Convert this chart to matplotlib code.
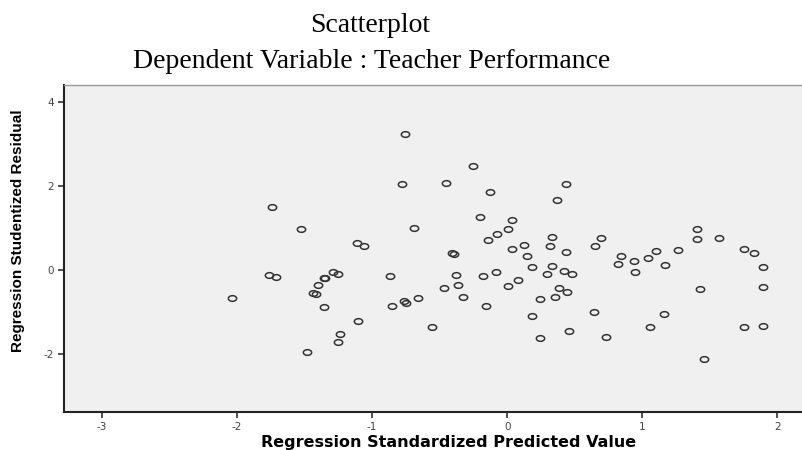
import numpy as np
import matplotlib
matplotlib.use("Agg")
import matplotlib.pyplot as plt
from matplotlib.path import Path
from matplotlib.transforms import Affine2D

# standardized predicted value / studentized residual
pred = [-0.756, -0.78, -1.743, -1.524, -0.69, -1.109, -1.057, -0.25, -0.454, -0.128,
        0.437, 0.370, -0.2, 0.035, 0.005, -0.072, -0.143, 0.331, 0.696, 0.126,
        0.037, 0.314, 0.654, 1.405, 1.405, 1.570, 0.844, 0.82, 0.936, 1.099,
        1.04, 1.262, 1.17, 0.95, 1.75, 1.825, 1.896, 1.896, 1.425, 1.163,
        1.057, 1.75, 1.896, 1.454, 0.73, -0.41, -0.39, 0.437, 0.15, -0.38,
        -0.178, -0.086, 0.183, 0.331, 0.296, 0.42, 0.477, -0.469, -0.365, -0.323,
        0.005, 0.077, 0.385, 0.444, 0.356, 0.24, -0.16, 0.183, 0.642, -0.553,
        0.24, 0.459, -0.66, -1.76, -1.709, -2.037, -1.287, -1.25, -1.358, -1.348,
        -1.398, -1.435, -1.417, -1.358, -0.869, -0.852, -0.763, -0.746, -1.106, -1.235,
        -1.254, -1.481]
resid = [3.23, 2.04, 1.50, 0.98, 1.00, 0.63, 0.58, 2.48, 2.06, 1.86,
         2.05, 1.66, 1.27, 1.18, 0.98, 0.85, 0.72, 0.79, 0.75, 0.60,
         0.50, 0.57, 0.58, 0.97, 0.74, 0.75, 0.33, 0.13, 0.21, 0.46,
         0.29, 0.47, 0.12, -0.05, 0.50, 0.40, 0.07, -0.40, -0.45, -1.05,
         -1.35, -1.36, -1.33, -2.13, -1.60, 0.40, 0.38, 0.42, 0.33, -0.11,
         -0.15, -0.04, 0.06, 0.10, -0.09, -0.02, -0.10, -0.44, -0.37, -0.64,
         -0.39, -0.25, -0.44, -0.52, -0.64, -0.70, -0.86, -1.09, -1.01, -1.35,
         -1.62, -1.46, -0.67, -0.11, -0.17, -0.67, -0.05, -0.10, -0.20, -0.20,
         -0.36, -0.56, -0.57, -0.88, -0.15, -0.86, -0.75, -0.79, -1.21, -1.52,
         -1.72, -1.95]

xticks = [-3, -2, -1, 0, 1, 2]
yticks = [-2, 0, 2, 4]

fig = plt.figure(figsize=(8.03, 4.5), dpi=100)
ax = fig.add_axes([64 / 803, 1 - 412 / 450, 1 - 64 / 803, (412 - 85) / 450])
ax.set_facecolor("#f0f0f0")

# squashed circle, the markers in the original are a bit wider than tall
ellipse = Path.unit_circle().transformed(Affine2D().scale(1, 0.68))
ax.plot(pred, resid, linestyle="none", marker=ellipse, markersize=6.0,
        markerfacecolor="none", markeredgecolor="#333333", markeredgewidth=1.1)

ax.set_xlim(-3.28, 2.19)
ax.set_ylim(-3.38, 4.40)
ax.set_xticks(xticks)
ax.set_yticks(yticks)
ax.set_xticklabels([str(t) for t in xticks])
ax.set_yticklabels([str(t) for t in yticks])
ax.tick_params(direction="out", length=4, width=1.2, color="#333333",
               labelsize=7.5, labelcolor="#444444", pad=3)

for s in ["left", "bottom"]:
    ax.spines[s].set_linewidth(1.5)
    ax.spines[s].set_color("#222222")
ax.spines["top"].set_color("#999999")
ax.spines["top"].set_linewidth(1.0)
ax.spines["right"].set_visible(False)

fig.text(370 / 803, 1 - 26 / 450, "Scatterplot", ha="center", va="center",
         family="Liberation Serif", fontsize=20)
fig.text(372 / 803, 1 - 62 / 450, "Dependent Variable : Teacher Performance",
         ha="center", va="center", family="Liberation Serif", fontsize=20)

fig.text(449 / 803, 1 - 443 / 450, "Regression Standardized Predicted Value",
         ha="center", va="center", family="DejaVu Sans", fontweight="bold",
         fontsize=11.5)
fig.text(18 / 803, 1 - 231 / 450, "Regression Studentized Residual",
         ha="center", va="center", rotation=90,
         family=["Liberation Sans Narrow", "Liberation Sans"], fontweight="bold",
         fontsize=11)

fig.savefig("out.png", dpi=100)
